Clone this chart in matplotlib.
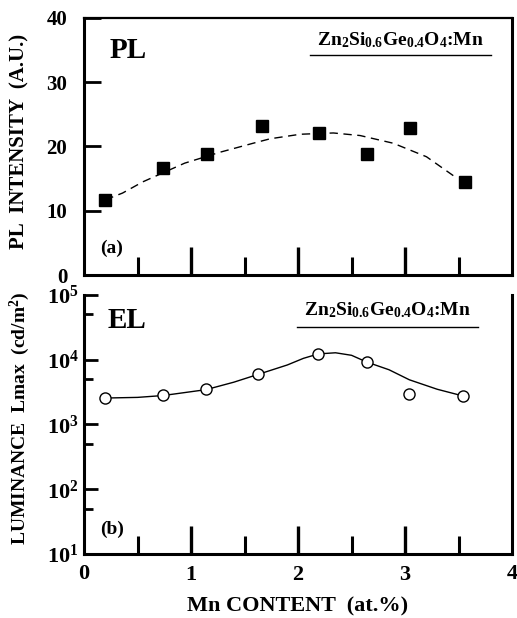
import numpy as np
import matplotlib
matplotlib.use("Agg")
import matplotlib.pyplot as plt
from matplotlib.ticker import FixedLocator, FuncFormatter

plt.rcParams['font.family'] = ['Liberation Serif', 'DejaVu Serif']
plt.rcParams['font.weight'] = 'bold'
plt.rcParams['mathtext.fontset'] = 'custom'
plt.rcParams['mathtext.rm'] = 'Liberation Serif:bold'
plt.rcParams['mathtext.bf'] = 'Liberation Serif:bold'
plt.rcParams['mathtext.it'] = 'Liberation Serif:bold'

# (a) PL intensity vs Mn content
pl_x = [0.20, 0.74, 1.15, 1.66, 2.20, 2.64, 3.05, 3.56]
pl_y = [11.7, 16.7, 18.8, 23.2, 22.1, 18.8, 22.9, 14.4]
# dashed guide curve
pl_fit_x = [0.20, 0.36, 0.55, 0.94, 1.27, 1.58, 1.74, 2.02, 2.33, 2.58, 2.89, 3.20, 3.49]
pl_fit_y = [11.7, 12.75, 14.5, 17.4, 19.1, 20.5, 21.2, 21.9, 22.1, 21.7, 20.5, 18.4, 15.0]

# (b) EL luminance vs Mn content
el_x = [0.20, 0.74, 1.14, 1.63, 2.19, 2.64, 3.04, 3.54]
el_y = [2540, 2860, 3500, 5960, 12300, 9230, 2960, 2760]
el_fit_x = [0.20, 0.50, 0.74, 1.14, 1.40, 1.63, 1.90, 2.05, 2.19, 2.35, 2.50, 2.64, 2.85, 3.04, 3.30, 3.54]
el_fit_y = [2560, 2620, 2800, 3450, 4500, 5960, 8300, 10500, 12300, 12800, 11700, 9230, 7000, 4900, 3500, 2760]

label = r'$\mathbf{Zn_{2}Si_{0.6}Ge_{0.4}O_{4}}$:Mn'

fig = plt.figure(figsize=(5.17, 6.18), dpi=100)
ax1 = fig.add_axes([0.1625, 0.555, 0.828, 0.416])
ax2 = fig.add_axes([0.1625, 0.1036, 0.828, 0.4191])

lw = 2.2
for ax in (ax1, ax2):
    for s in ax.spines.values():
        s.set_linewidth(lw)
    ax.set_xlim(0, 4)
    ax.xaxis.set_major_locator(FixedLocator([1, 2, 3]))
    ax.xaxis.set_minor_locator(FixedLocator([0.5, 1.5, 2.5, 3.5]))
    ax.tick_params(axis='x', which='major', direction='in', length=20, width=2.4)
    ax.tick_params(axis='x', which='minor', direction='in', length=13, width=2.2)

# top panel
ax1.spines['top'].set_linewidth(1.6)
ax1.plot(pl_fit_x, pl_fit_y, color='black', lw=1.0, dashes=(6, 4))
ax1.plot(pl_x, pl_y, 's', color='black', ms=8.5)
ax1.set_ylim(0, 40)
ax1.set_yticks([0, 10, 20, 30, 40])
ax1.set_yticklabels(['0', '10', '20', '30', '40'], fontsize=15)
ax1.tick_params(axis='y', direction='in', length=12, width=2, pad=12)
ax1.set_xticklabels([])
ax1.set_ylabel('PL  INTENSITY  (A.U.)', fontsize=15, fontweight='bold', va='center')
ax1.yaxis.set_label_coords(-0.15, 0.52)
ax1.text(0.06, 0.845, 'PL', transform=ax1.transAxes, fontsize=21, fontweight='bold')
ax1.text(0.738, 0.893, label, transform=ax1.transAxes, fontsize=14, ha='center')
ax1.plot([0.528, 0.951], [0.856, 0.856], transform=ax1.transAxes, color='black', lw=1.0, clip_on=False)
ax1.text(0.037, 0.086, '(a)', transform=ax1.transAxes, fontsize=14, fontweight='bold')

# bottom panel
ax2.spines['top'].set_visible(False)
ax2.set_yscale('log')
ax2.set_ylim(10, 1e5)
ax2.plot(el_fit_x, el_fit_y, color='black', lw=1.0)
ax2.plot(el_x, el_y, 'o', mfc='white', mec='black', mew=1.0, ms=8)
ax2.yaxis.set_major_locator(FixedLocator([10, 100, 1e3, 1e4, 1e5]))
ax2.yaxis.set_minor_locator(FixedLocator([50, 500, 5e3, 5e4]))
ax2.yaxis.set_major_formatter(FuncFormatter(lambda v, p: r'$\mathbf{10^{%d}}$' % round(np.log10(v))))
ax2.yaxis.set_minor_formatter(FuncFormatter(lambda v, p: ''))
ax2.tick_params(axis='y', which='major', direction='in', length=10, width=2, pad=4, labelsize=16)
ax2.tick_params(axis='y', which='minor', direction='in', length=6.5, width=2)
ax2.set_xticklabels(['1', '2', '3'], fontsize=16)
ax2.tick_params(axis='x', which='major', pad=8)
ax2.text(0, -0.04, '0', transform=ax2.transAxes, fontsize=16, ha='center', va='top')
ax2.text(1, -0.04, '4', transform=ax2.transAxes, fontsize=16, ha='center', va='top')
ax2.set_ylabel(r'LUMINANCE  Lmax  (cd/m$^{\mathbf{2}}$)', fontsize=14, fontweight='bold', va='center')
ax2.yaxis.set_label_coords(-0.15, 0.525)
ax2.set_xlabel('Mn CONTENT  (at.%)', fontsize=16, fontweight='bold')
ax2.xaxis.set_label_coords(0.5, -0.165)
ax2.text(0.056, 0.873, 'EL', transform=ax2.transAxes, fontsize=21, fontweight='bold')
ax2.text(0.708, 0.92, label, transform=ax2.transAxes, fontsize=14, ha='center')
ax2.plot([0.498, 0.92], [0.876, 0.876], transform=ax2.transAxes, color='black', lw=1.0, clip_on=False)
ax2.text(0.037, 0.077, '(b)', transform=ax2.transAxes, fontsize=14, fontweight='bold')

fig.savefig('out.png', dpi=100)
